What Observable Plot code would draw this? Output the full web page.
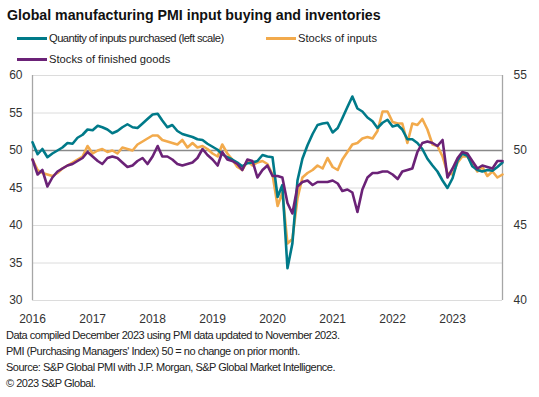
<!DOCTYPE html>
<html><head><meta charset="utf-8">
<script src="https://cdn.jsdelivr.net/npm/d3@7"></script>
<script src="https://cdn.jsdelivr.net/npm/@observablehq/plot@0.6"></script>
<style>
body{margin:0;background:#fff;font-family:"Liberation Sans",Arial,sans-serif;color:#222;}
#wrap{width:539px;height:397px;position:relative;overflow:hidden;background:#fff;}
.title{position:absolute;left:7px;top:6px;font-size:14.2px;line-height:18px;font-weight:bold;color:#111;white-space:nowrap;}
.leg{position:absolute;font-size:11.2px;line-height:14px;display:flex;align-items:center;white-space:nowrap;color:#222;}
.leg.tight{letter-spacing:-0.55px;}
.sw{display:inline-block;width:30px;height:3px;margin-right:2px;}
#chart{position:absolute;left:0;top:66px;}
.cap{position:absolute;left:6px;top:327px;font-size:11px;letter-spacing:-0.5px;line-height:16px;color:#222;white-space:nowrap;}
</style></head>
<body><div id="wrap">
<div class="title">Global manufacturing PMI input buying and inventories</div>
<div id="legend"></div>
<div id="chart"></div>
<div class="cap" id="cap"></div>
</div>
<script>
// Month categories: Jan 2016 .. Nov 2023
const firstMonth = Date.UTC(2016, 0, 1);
const endMonthExclusive = Date.UTC(2023, 11, 1);

// Quantity of inputs purchased (left scale)
const quantityPurchased = [
  51.1, 49.5, 50.2, 49.1, 49.6, 50.0, 50.4, 51.0, 50.9, 51.7, 52.1, 52.8,
  52.7, 53.3, 53.1, 52.8, 52.3, 52.6, 53.1, 53.5, 53.1, 53.0, 53.6, 54.2,
  54.8, 54.9, 54.0, 53.1, 53.4, 52.6, 52.2, 52.0, 51.8, 51.5, 51.4, 50.9,
  50.5, 50.1, 49.5, 49.1, 48.8, 48.4, 47.9, 48.3, 48.4, 48.6, 49.4, 49.2,
  49.1, 43.8, 45.4, 34.3, 37.6, 46.0, 48.9, 50.7, 52.2, 53.4, 53.6, 53.7,
  52.4, 53.0, 54.3, 55.8, 57.2, 55.6, 55.2, 54.4, 53.9, 53.0, 53.7, 54.1,
  53.2, 53.4, 52.8, 51.5, 51.5, 51.0, 50.2, 48.9, 48.0, 47.2, 46.0, 45.0,
  46.3, 48.7, 49.6, 49.3, 47.9, 47.4, 47.2, 47.4, 47.3, 47.8, 48.4
];
// Stocks of inputs (right scale)
const stocksInputs = [
  49.4, 48.7, 48.5, 48.4, 48.3, 48.5, 48.8, 49.0, 49.2, 49.4, 49.6, 50.3,
  49.8, 50.0, 50.1, 49.9, 50.0, 49.8, 50.2, 50.1, 50.0, 50.4, 50.6, 50.8,
  51.0, 51.0, 50.7, 50.6, 50.5, 50.4, 50.7, 50.2, 50.5, 50.2, 50.3, 50.1,
  49.8, 49.6, 50.4, 49.8, 49.4, 48.9, 48.7, 49.3, 49.0, 49.2, 49.3, 49.1,
  48.4, 46.3, 47.2, 43.8, 44.1, 46.8, 48.2, 48.5, 48.7, 49.0, 48.8, 49.5,
  48.9, 48.7, 49.4, 49.9, 50.4, 50.5, 50.8, 50.9, 50.8, 51.3, 52.6, 52.6,
  51.9, 51.8, 51.8, 50.5, 51.8, 51.7, 52.1, 51.4, 50.4, 50.3, 49.6, 48.5,
  48.4, 49.2, 49.6, 49.6, 49.2, 48.6, 48.9, 48.3, 48.6, 48.2, 48.4
];
// Stocks of finished goods (right scale)
const stocksFinished = [
  49.4, 48.4, 48.7, 47.6, 48.2, 48.6, 48.8, 49.0, 49.1, 49.3, 49.5, 49.9,
  49.6, 49.3, 49.1, 49.5, 49.6, 49.5, 49.2, 48.9, 49.0, 49.3, 49.5, 49.1,
  49.6, 50.3, 49.6, 49.6, 49.4, 49.1, 49.0, 49.1, 49.2, 49.5, 50.1, 49.7,
  49.4, 49.0, 49.9, 49.4, 49.3, 49.1, 48.7, 49.4, 49.3, 48.2, 48.7, 49.0,
  48.3, 48.3, 48.2, 46.5, 45.8, 47.6, 47.9, 48.0, 47.7, 47.9, 47.9, 47.9,
  48.0, 47.8, 47.3, 47.4, 47.2, 45.9, 47.4, 48.2, 48.5, 48.5, 48.6, 48.6,
  48.4, 48.1, 48.6, 48.7, 48.8, 49.9, 50.5, 50.6, 50.5, 50.3, 50.7, 48.2,
  48.8, 49.5, 49.9, 49.8, 49.3, 48.8, 49.0, 48.9, 48.8, 49.3, 49.3
];

const seriesNames = ["Quantity of inputs purchased (left scale)", "Stocks of inputs", "Stocks of finished goods"];
const seriesColors = ["#007a89", "#f2aa4c", "#6b2277"];
const leftTicks = [30, 35, 40, 45, 50, 55, 60];
const rightTickValues = [30, 40, 50, 60];
const rightTickLabels = ["40", "45", "50", "55"];
const yearLabels = ["2016", "2017", "2018", "2019", "2020", "2021", "2022", "2023"];
const captionLines = [
  "Data compiled December 2023 using PMI data updated to November 2023.",
  "PMI (Purchasing Managers' Index) 50 = no change on prior month.",
  "Source: S&P Global PMI with J.P. Morgan, S&P Global Market Intelligence.",
  "\u00A9 2023 S&P Global."
];

const months = d3.utcMonth.range(firstMonth, endMonthExclusive);
const yearTicks = yearLabels.map(y => new Date(Date.UTC(+y, 0, 1)));
// right-scale values (40..55) share the chart's left scale (30..60): left = 2*right - 50
const toLeft = v => 2 * v - 50;

const rows = (arr, name, right) => months.map((d, i) => ({date: d, value: right ? toLeft(arr[i]) : arr[i], name}));
const teal = rows(quantityPurchased, seriesNames[0], false);
const orange = rows(stocksInputs, seriesNames[1], true);
const purple = rows(stocksFinished, seriesNames[2], true);

const chart = Plot.plot({
  width: 539, height: 260,
  marginLeft: 32, marginRight: 37, marginTop: 9, marginBottom: 26,
  style: {fontFamily: "'Liberation Sans', Arial, sans-serif", fontSize: "12px", color: "#333", background: "white"},
  x: {type: "utc", domain: [months[0], months[months.length - 1]]},
  y: {domain: [30, 60]},
  marks: [
    Plot.ruleY(leftTicks.filter(d => d !== 50), {stroke: "#dcdcdc", strokeWidth: 1}),
    Plot.ruleX([months[0], months[months.length - 1]], {stroke: "#a6a6a6", strokeWidth: 1.3}),
    Plot.ruleY([50], {stroke: "#8a8a8a", strokeWidth: 1.4}),
    Plot.line(orange, {x: "date", y: "value", stroke: seriesColors[1], strokeWidth: 2.6, curve: "linear"}),
    Plot.line(teal, {x: "date", y: "value", stroke: seriesColors[0], strokeWidth: 2.6, curve: "linear"}),
    Plot.line(purple, {x: "date", y: "value", stroke: seriesColors[2], strokeWidth: 2.6, curve: "linear"}),
    Plot.axisY(leftTicks, {anchor: "left", tickSize: 0, tickPadding: 10, fontSize: 12, label: null, fill: "#333"}),
    Plot.axisY(rightTickValues, {anchor: "right", tickSize: 0, tickPadding: 11, fontSize: 12, label: null, fill: "#333",
      tickFormat: d => rightTickLabels[rightTickValues.indexOf(d)]}),
    Plot.axisX(yearTicks, {tickSize: 0, tickPadding: 14, fontSize: 12, label: null, fill: "#333",
      tickFormat: d => yearLabels[d.getUTCFullYear() - 2016]})
  ]
});
document.getElementById("chart").appendChild(chart);

// legend
const legPos = [{left: 17, top: 31}, {left: 266, top: 31}, {left: 17, top: 52}];
const leg = document.getElementById("legend");
seriesNames.forEach((n, i) => {
  const d = document.createElement("div");
  d.className = i === 0 ? "leg tight" : "leg";
  d.style.left = legPos[i].left + "px";
  d.style.top = legPos[i].top + "px";
  const s = document.createElement("span");
  s.className = "sw";
  s.style.background = seriesColors[i];
  d.appendChild(s);
  d.appendChild(document.createTextNode(n));
  leg.appendChild(d);
});
document.getElementById("cap").innerHTML = captionLines.map(t => `<div>${t.replace(/&/g, "&amp;")}</div>`).join("");
</script>
</body></html>
